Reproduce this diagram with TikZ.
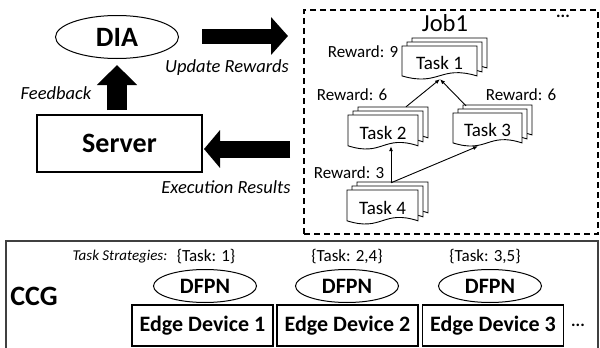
\documentclass[tikz,border=0pt]{standalone}
\usepackage{fontspec}
\setmainfont{Carlito}
\usetikzlibrary{arrows.meta,shapes.geometric}

\newcommand\fsz[1]{\fontsize{#1}{#1}\selectfont}

% one document sheet: top-left corner (#1,#2), width #3, height #4, wavy bottom
\newcommand\docsheet[4]{%
  \filldraw[docline] ({#1},{#2}) -- ({#1+#3},{#2}) -- ({#1+#3},{#2+0.88*#4})
    .. controls ({#1+0.5*#3},{#2+0.55*#4}) and ({#1+0.5*#3},{#2+1.2*#4})
    .. ({#1},{#2+0.88*#4}) -- cycle;}
% a stack of three sheets, front sheet at (#1,#2)
\newcommand\docstack[4]{%
  \docsheet{#1+10}{#2-8}{#3}{#4}%
  \docsheet{#1+5}{#2-4}{#3}{#4}%
  \docsheet{#1}{#2}{#3}{#4}}

\tikzset{
  docline/.style={draw=black, fill=white, line width=0.9pt},
  bigbold/.style={font=\fsz{28}\bfseries},
  oval/.style={draw, ellipse, line width=1pt, inner sep=0pt},
  dfpn/.style={oval, minimum width=103, minimum height=33, font=\fsz{22}\bfseries},
  device/.style={draw, line width=1.3pt, minimum width=141, minimum height=41,
    inner sep=0pt, font=\fsz{22}\bfseries},
  tasklabel/.style={inner sep=0pt, font=\fsz{19}},
  reward/.style={inner sep=0pt, font=\fsz{17}},
  strategy/.style={inner sep=0pt, font=\fsz{17}},
  caption/.style={inner sep=0pt, font=\fsz{18.5}\itshape},
  thin arrow/.style={line width=0.9pt, -{Latex[length=5pt,width=4pt]}},
}

\begin{document}
\begin{tikzpicture}[x=1pt,y=-1pt]
\useasboundingbox (0,0) rectangle (600,348);

% ---------- upper left: DIA and server ----------
\node[oval, minimum width=123, minimum height=43, bigbold] (dia) at (117,37) {DIA};
\node[draw, line width=1.2pt, minimum width=165, minimum height=57, inner sep=0pt,
  bigbold] (server) at (119.5,143.5) {Server};

% broad block arrows
\coordinate (fb-s) at (117,110);
\coordinate (fb-e) at (117,65);
\draw[line width=20pt, -{Triangle[length=20pt,width=39pt]}] (fb-s) -- (fb-e);
\coordinate (up-s) at (202,36);
\coordinate (up-e) at (288,36);
\draw[line width=15pt, -{Triangle[length=17pt,width=37pt]}] (up-s) -- (up-e);
\coordinate (ex-s) at (290,149);
\coordinate (ex-e) at (204,149);
\draw[line width=17pt, -{Triangle[length=16pt,width=37pt]}] (ex-s) -- (ex-e);

\node[caption] (fbtxt) at (56,93) {Feedback};
\node[caption] (uptxt) at (227,68) {Update Rewards};
\node[caption] (extxt) at (226,187) {Execution Results};

% ---------- job graph ----------
\node[draw, dash pattern=on 6pt off 4pt, line width=1.4pt, minimum width=294,
  minimum height=224, inner sep=0pt] (job) at (451,122) {};
\node[inner sep=0pt, font=\fsz{24.5}] (jobname) at (445,23) {Job1};
\node[inner sep=0pt, font=\fsz{17}\bfseries] (jobmore) at (563,16) {...};

\docstack{402}{46}{75}{34}
\docstack{348}{115}{70}{35}
\docstack{453}{113}{69}{34}
\docstack{347}{190}{71}{35}

\node[tasklabel, minimum width=75, minimum height=34] (t1) at (439.5,63) {Task 1};
\node[tasklabel, minimum width=70, minimum height=35] (t2) at (383,132.5) {Task 2};
\node[tasklabel, minimum width=69, minimum height=34] (t3) at (487.5,130) {Task 3};
\node[tasklabel, minimum width=71, minimum height=35] (t4) at (382.5,207.5) {Task 4};

\node[reward] (r1) at (363,52) {Reward: 9};
\node[reward] (r2) at (352,95) {Reward: 6};
\node[reward] (r3) at (521,95) {Reward: 6};
\node[reward] (r4) at (349,173) {Reward: 3};

\coordinate (t2top) at ([shift={(23,-8)}]t2.north);
\coordinate (t3top) at ([shift={(-21.5,-7)}]t3.north);
\coordinate (t4top) at ([shift={(8.5,-7)}]t4.north);
\coordinate (t2bot) at ([shift={(8,-4)}]t2.south);
\coordinate (t3bot) at ([shift={(-9.5,-1)}]t3.south);
\coordinate (t1bot) at ([shift={(0.5,-1)}]t1.south);

\draw[thin arrow] (t2top) -- (t1bot);
\draw[thin arrow] (t3top) -- (t1bot);
\draw[thin arrow] (t4top) -- (t2bot);
\draw[thin arrow] (t4top) -- (t3bot);

% ---------- CCG with edge devices ----------
\draw[line width=2pt, draw=black!75] (6,349) -- (6,241) -- (598,241) -- (598,349);
\node[bigbold, inner sep=0pt] (ccg) at (34,296) {CCG};

\node[strategy, font=\fsz{15}\itshape] (strat) at (120,257) {Task Strategies:};
\node[strategy] (s1) at (206,257) {\{Task: 1\}};
\node[strategy] (s2) at (347,257) {\{Task: 2,4\}};
\node[strategy] (s3) at (485,257) {\{Task: 3,5\}};

\node[dfpn] (d1) at (205,286) {DFPN};
\node[dfpn] (d2) at (347,286) {DFPN};
\node[dfpn] (d3) at (490,286) {DFPN};

\node[device] (e1) at (202.5,325.5) {Edge Device 1};
\node[device] (e2) at (347.5,325.5) {Edge Device 2};
\node[device] (e3) at (493,325.5) {Edge Device 3};
\node[inner sep=0pt, font=\fsz{17}\bfseries] (devmore) at (578,325) {...};
\end{tikzpicture}
\end{document}
